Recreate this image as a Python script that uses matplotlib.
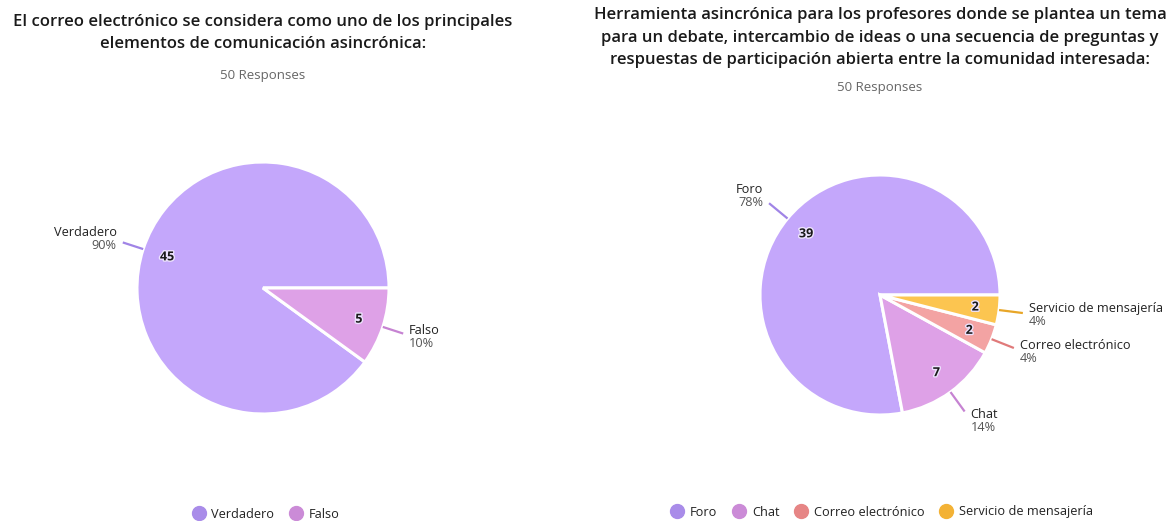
import matplotlib
matplotlib.use('Agg')
import matplotlib.pyplot as plt
import numpy as np
from matplotlib.lines import Line2D
import matplotlib.patheffects as pe

plt.rcParams['font.family'] = ['Open Sans', 'DejaVu Sans']

# ---------------- data ----------------
left_labels = ['Verdadero', 'Falso']
left_counts = [45, 5]
right_labels = ['Foro', 'Chat', 'Correo electrónico', 'Servicio de mensajería']
right_counts = [39, 7, 2, 2]
left_title = ('El correo electrónico se considera como uno de los principales\n'
              'elementos de comunicación asincrónica:')
right_title = ('Herramienta asincrónica para los profesores donde se plantea un tema\n'
               'para un debate, intercambio de ideas o una secuencia de preguntas y\n'
               'respuestas de participación abierta entre la comunidad interesada:')
responses_text = '50 Responses'

fill_colors = ['#c4a7fb', '#dea1e7', '#f3a3a3', '#fcc550']
mark_colors = ['#a98ce9', '#cb8bd7', '#e68585', '#f3b235']
line_colors = ['#a084e6', '#c683d2', '#e07a7a', '#e8a628']

# ---------------- figure ----------------
W, H = 1167, 521
fig = plt.figure(figsize=(W / 100, H / 100), dpi=100)
ax = fig.add_axes([0, 0, 1, 1])


def draw_pie(counts, labels, cx, cy_img, r, ext):
    cy = H - cy_img
    total = sum(counts)
    wedges, _ = ax.pie(counts, colors=fill_colors[:len(counts)], startangle=0,
                       counterclock=True, center=(cx, cy), radius=r,
                       wedgeprops=dict(edgecolor='white', linewidth=2.2))
    for i, (w, n, lab) in enumerate(zip(wedges, counts, labels)):
        mid = np.deg2rad((w.theta1 + w.theta2) / 2)
        c, s = np.cos(mid), np.sin(mid)
        # count inside
        ax.text(cx + 0.8 * r * c, cy + 0.8 * r * s, str(n), ha='center', va='center',
                fontsize=9, fontweight='bold', color='#1a1a1a',
                path_effects=[pe.withStroke(linewidth=2.0, foreground='#ece2fd')])
        # leader line
        x0, y0 = cx + 1.0 * r * c, cy + 1.0 * r * s
        x1, y1 = cx + ext * r * c, cy + ext * r * s
        ax.plot([x0, x1], [y0, y1], color=line_colors[i], lw=1.6, solid_capstyle='butt')
        ha = 'left' if c >= 0 else 'right'
        tx = x1 + (6 if c >= 0 else -6)
        yc = y1 + 12 * s
        ax.text(tx, yc + 6.5, lab, ha=ha, va='center', fontsize=9.2, color='#222222')
        ax.text(tx, yc - 6.5, f'{round(100 * n / total)}%', ha=ha, va='center',
                fontsize=9.2, color='#555555')


draw_pie(left_counts, left_labels, 263, 288, 126, 1.17)
draw_pie(right_counts, right_labels, 880, 295, 120, 1.2)

ax.set_xlim(0, W)
ax.set_ylim(0, H)
ax.set_aspect('equal')
ax.axis('off')

# titles
ax.text(263, H - 33, left_title, ha='center', va='center', fontsize=12,
        fontweight='semibold', color='#1a1a1a', linespacing=1.55)
ax.text(263, H - 75, responses_text, ha='center', va='center', fontsize=9.5, color='#666666')
ax.text(880, H - 37.5, right_title, ha='center', va='center', fontsize=12,
        fontweight='semibold', color='#1a1a1a', linespacing=1.55)
ax.text(880, H - 88, responses_text, ha='center', va='center', fontsize=9.5, color='#666666')


def make_legend(labels, x_img, y_img):
    handles = [Line2D([], [], marker='o', ls='', markersize=10,
                      markerfacecolor=mark_colors[i], markeredgecolor=mark_colors[i])
               for i in range(len(labels))]
    leg = fig.legend(handles, labels, loc='center', bbox_to_anchor=(x_img / W, 1 - y_img / H),
                     ncol=len(labels), frameon=False, handlelength=1.0, handletextpad=0.5,
                     columnspacing=1.2, fontsize=9.2)
    for t in leg.get_texts():
        t.set_color('#222222')
    return leg


make_legend(left_labels, 266, 514)
make_legend(right_labels, 882, 512)

fig.savefig('out.png', dpi=100, facecolor='white')
